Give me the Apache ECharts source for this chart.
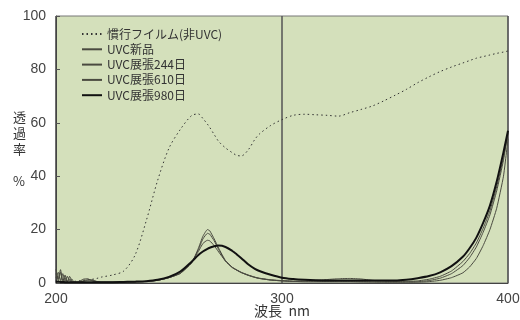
<!DOCTYPE html>
<html><head><meta charset="utf-8">
<script src="https://cdn.jsdelivr.net/npm/echarts@6/dist/echarts.min.js"></script>
<style>html,body{margin:0;padding:0;background:#fff}#c{width:520px;height:320px}</style>
</head><body><div id="c"></div>
<script>
const wavelengths = [200,201,202,203,204,205,206,207,208,210,212,214,216,218,220,225,230,235,240,245,250,255,260,263,265,267,268,270,272,275,278,280,282,285,288,290,295,300,305,310,315,320,325,330,335,340,345,350,355,360,365,370,375,380,383,386,389,392,395,398,400];
const seriesNames = ['慣行フイルム(非UVC)','UVC新品','UVC展張244日','UVC展張610日','UVC展張980日'];
const conventional = [0.5,3.0,0.8,1.8,0.5,1.0,0.4,0.5,0.6,0.8,1.0,1.2,1.4,1.7,2.2,3.0,4.5,10.5,23.5,38.5,50.5,57.5,62.7,63.3,61.6,59.5,58.3,55.6,53.0,50.6,48.8,47.8,47.6,49.8,53.8,55.8,59.0,61.2,62.8,63.2,63.0,62.8,62.5,63.8,65.0,66.3,68.2,70.3,72.5,75.0,77.2,79.2,80.9,82.4,83.3,84.2,84.8,85.4,86.0,86.5,86.9];
const uvcNew = [5.2,0.8,4.0,0.3,3.0,0.5,1.5,0.3,0.2,0.4,1.4,1.6,0.8,0.4,0.3,0.3,0.3,0.4,0.6,1.0,2.0,3.6,7.5,13.0,17.5,20.0,19.6,16.5,13.0,8.4,5.8,4.8,3.9,2.9,2.1,1.7,1.1,0.8,0.6,0.5,0.5,0.5,0.5,0.5,0.4,0.4,0.3,0.3,0.3,0.3,0.5,1.0,2.0,3.8,6.0,9.2,14.0,20.0,28.0,40.0,54.0];
const uvc244 = [3.5,1.5,5.0,1.0,2.0,0.3,2.5,0.8,0.3,0.3,0.8,1.2,1.0,0.5,0.3,0.3,0.3,0.4,0.6,1.0,2.0,3.6,7.6,12.5,16.5,18.6,18.3,15.8,12.5,8.2,5.8,4.8,3.9,2.9,2.1,1.7,1.1,0.8,0.6,0.5,0.5,0.5,0.5,0.5,0.5,0.4,0.4,0.4,0.4,0.5,0.9,1.8,3.5,6.5,9.5,13.5,19.0,25.5,34.5,46.0,57.0];
const uvc610 = [2.0,4.0,1.0,3.5,0.5,2.5,0.8,1.5,0.3,0.3,0.6,1.0,1.2,0.6,0.3,0.3,0.3,0.4,0.6,1.0,2.0,3.7,7.8,11.8,14.8,16.0,15.8,14.0,11.6,8.2,5.9,4.9,4.0,3.0,2.2,1.8,1.2,0.9,0.7,0.8,1.0,1.3,1.6,1.7,1.5,1.0,0.7,0.6,0.6,0.8,1.4,2.5,4.5,8.0,11.0,15.0,20.5,27.0,36.0,47.0,56.0];
const uvc980 = [0.5,0.5,0.4,0.4,0.3,0.3,0.3,0.3,0.3,0.3,0.3,0.3,0.3,0.3,0.3,0.3,0.4,0.5,0.7,1.2,2.3,4.3,8.0,10.5,11.8,12.8,13.2,13.8,14.0,13.5,12.0,10.7,9.3,7.0,5.3,4.5,3.1,2.0,1.5,1.2,1.0,0.9,0.9,0.9,0.9,0.9,0.9,0.9,1.2,1.8,2.6,4.0,6.3,9.8,13.0,17.0,22.5,29.0,38.0,49.0,57.0];
const xTicks = [200,300,400];
const yTicks = [0,20,40,60,80,100];

const pair = arr => wavelengths.map((w,i)=>[w,arr[i]]);
const chart = echarts.init(document.getElementById('c'), null, {renderer:'canvas'});
const thin = {color:'#4a4a40', width:1, type:'solid'};
const mk = (name, arr, ls, z, sm) => ({
  name, type:'line', data: pair(arr), symbol:'none', smooth:sm, z,
  lineStyle: ls, itemStyle:{color: ls.color}, emphasis:{disabled:true}
});
chart.setOption({
  animation:false,
  backgroundColor:'#ffffff',
  textStyle:{fontFamily:'Liberation Sans, Noto Sans CJK JP, sans-serif'},
  grid:{left:56, right:12, top:16, bottom:37, show:true, backgroundColor:'#d4e0bb', borderColor:'#777', borderWidth:1, outerBoundsMode:'none', containLabel:false},
  legend:{
    orient:'vertical', left:81, top:28, padding:0, itemWidth:20, itemHeight:12, itemGap:3.3,
    data: seriesNames,
    itemStyle:{opacity:0},
    textStyle:{fontSize:12, color:'#333', fontFamily:'Noto Sans CJK JP, sans-serif'},
    selectedMode:false
  },
  xAxis:{
    type:'value', min:xTicks[0], max:xTicks[xTicks.length-1], interval:100,
    name:'波長  nm', nameLocation:'middle', nameGap:21, nameMoveOverlap:false,
    nameTextStyle:{fontSize:14, color:'#333', fontFamily:'Noto Sans CJK JP, sans-serif'},
    axisLine:{show:true, onZero:false, lineStyle:{color:'#444', width:1}},
    axisTick:{show:false},
    axisLabel:{fontSize:14, color:'#444', margin:9},
    splitLine:{show:true, lineStyle:{color:'#555', width:1.5}}
  },
  yAxis:{
    type:'value', min:yTicks[0], max:yTicks[yTicks.length-1], interval:20,
    axisLine:{show:true, lineStyle:{color:'#444'}},
    axisTick:{show:true, inside:true, length:4, lineStyle:{color:'#555'}},
    axisLabel:{fontSize:14, color:'#444', margin:10},
    splitLine:{show:false}
  },
  graphic:[{
    type:'text', left:13, top:109,
    style:{text:'透\n過\n率\n\n%', font:'13px "Noto Sans CJK JP", sans-serif', fill:'#333', lineHeight:16, align:'center'}
  }],
  series:[
    mk(seriesNames[0], conventional, {color:'#333', width:1, type:[1.5,3]}, 2, 0.3),
    mk(seriesNames[1], uvcNew, thin, 3, 0.15),
    mk(seriesNames[2], uvc244, thin, 3, 0.15),
    mk(seriesNames[3], uvc610, thin, 3, 0.15),
    mk(seriesNames[4], uvc980, {color:'#111', width:2, type:'solid'}, 4, 0.3)
  ]
});
</script></body></html>
